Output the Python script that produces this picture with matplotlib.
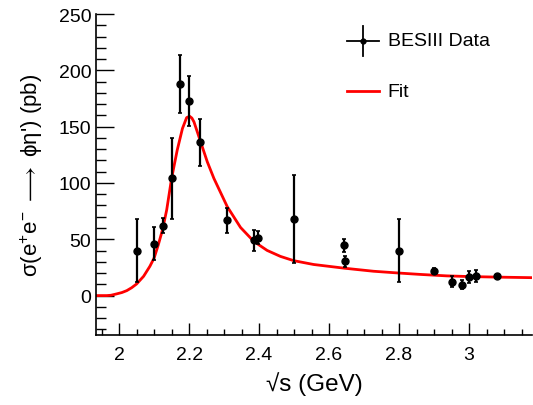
import matplotlib
matplotlib.use("Agg")
import matplotlib.pyplot as plt
from matplotlib.ticker import MultipleLocator

plt.rcParams['font.family'] = ['Liberation Sans', 'DejaVu Sans']
plt.rcParams['mathtext.fontset'] = 'custom'
plt.rcParams['mathtext.rm'] = 'Liberation Sans'
plt.rcParams['mathtext.it'] = 'Liberation Sans'
plt.rcParams['mathtext.sf'] = 'Liberation Sans'
plt.rcParams['mathtext.fallback'] = 'stixsans'

# BESIII data points
energy = [2.05, 2.10, 2.125, 2.15, 2.175, 2.20, 2.232, 2.309, 2.385, 2.396,
          2.50, 2.644, 2.646, 2.80, 2.90, 2.95, 2.981, 3.00, 3.02, 3.08]
xsec = [40, 46, 62, 104, 188, 173, 136, 67, 49, 51.5,
        68, 44.5, 30.5, 40, 22, 12.5, 9.5, 16.5, 17.5, 17]
xsec_err = [28, 14.5, 6.7, 36, 26, 22, 21, 11, 9, 6,
            39, 6, 5, 28, 2.5, 4.5, 4, 5, 5.5, 1.5]

# Fit curve
fit_x = [1.934, 1.965, 1.977, 1.993, 2.008, 2.022, 2.036, 2.050, 2.070, 2.088,
         2.100, 2.112, 2.124, 2.136, 2.150, 2.166, 2.181, 2.193, 2.2016, 2.208,
         2.214, 2.233, 2.252, 2.271, 2.290, 2.309, 2.347, 2.385, 2.423, 2.461,
         2.499, 2.556, 2.644, 2.727, 2.800, 2.860, 2.936, 3.000, 3.079, 3.180]
fit_y = [0, 0, 0.3, 1.5, 2.7, 4.4, 7.0, 10.3, 17.1, 26,
         33.3, 45, 58.4, 76, 104, 129, 148.3, 158, 159.2, 157.6,
         154.2, 136.5, 118.8, 104, 91.5, 79, 60.5, 48.1, 40.1, 34.8,
         31, 27.6, 24.3, 21.6, 20.0, 18.8, 17.5, 16.9, 16.4, 15.9]

W, H = 533, 406
fig = plt.figure(figsize=(W / 100, H / 100), dpi=100)
ax = fig.add_axes([96 / W, 1 - 336 / H, (532 - 96) / W, (336 - 15) / H])

ax.plot(fit_x, fit_y, color='#ff0000', lw=2.0, zorder=2)
ax.errorbar(energy, xsec, yerr=xsec_err, fmt='o', color='black', ms=5,
            elinewidth=1.6, capsize=1.5, capthick=1.2, zorder=3)

ax.set_xlim(1.934, 3.18)
ax.set_ylim(-35, 250)
ax.xaxis.set_minor_locator(MultipleLocator(0.05))
ax.yaxis.set_major_locator(MultipleLocator(50))
ax.yaxis.set_minor_locator(MultipleLocator(10))
ax.set_xticks([2.0, 2.2, 2.4, 2.6, 2.8, 3.0])
ax.set_xticklabels(['2', '2.2', '2.4', '2.6', '2.8', '3'])
ax.tick_params(axis='both', which='both', direction='in', labelsize=14)
ax.tick_params(axis='y', which='major', length=13, width=1)
ax.tick_params(axis='y', which='minor', length=7, width=1)
ax.tick_params(axis='x', which='major', length=9, width=1, pad=8)
ax.tick_params(axis='x', which='minor', length=4.5, width=1)
for s in ['top', 'right']:
    ax.spines[s].set_visible(False)
for s in ['left', 'bottom']:
    ax.spines[s].set_linewidth(1.2)

ax.set_xlabel('√s (GeV)', fontsize=17.5, labelpad=6)
ax.set_ylabel(r"σ(e$^{+}$e$^{-}$ $\longrightarrow$ ϕη') (pb)", fontsize=16, labelpad=10)

# Legend (ROOT style)
tr = ax.transAxes
ax.plot([0.575, 0.650], [0.916, 0.916], color='black', lw=1.3, transform=tr, clip_on=False)
ax.plot([0.612, 0.612], [0.870, 0.962], color='black', lw=1.3, transform=tr, clip_on=False)
ax.plot([0.612], [0.916], 'o', color='black', ms=3.5, transform=tr, clip_on=False)
ax.text(0.669, 0.916, 'BESIII Data', transform=tr, fontsize=14, va='center', ha='left')
ax.plot([0.575, 0.650], [0.760, 0.760], color='#ff0000', lw=2.0, transform=tr, clip_on=False)
ax.text(0.669, 0.760, 'Fit', transform=tr, fontsize=14, va='center', ha='left')

fig.savefig('out.png', dpi=100)
